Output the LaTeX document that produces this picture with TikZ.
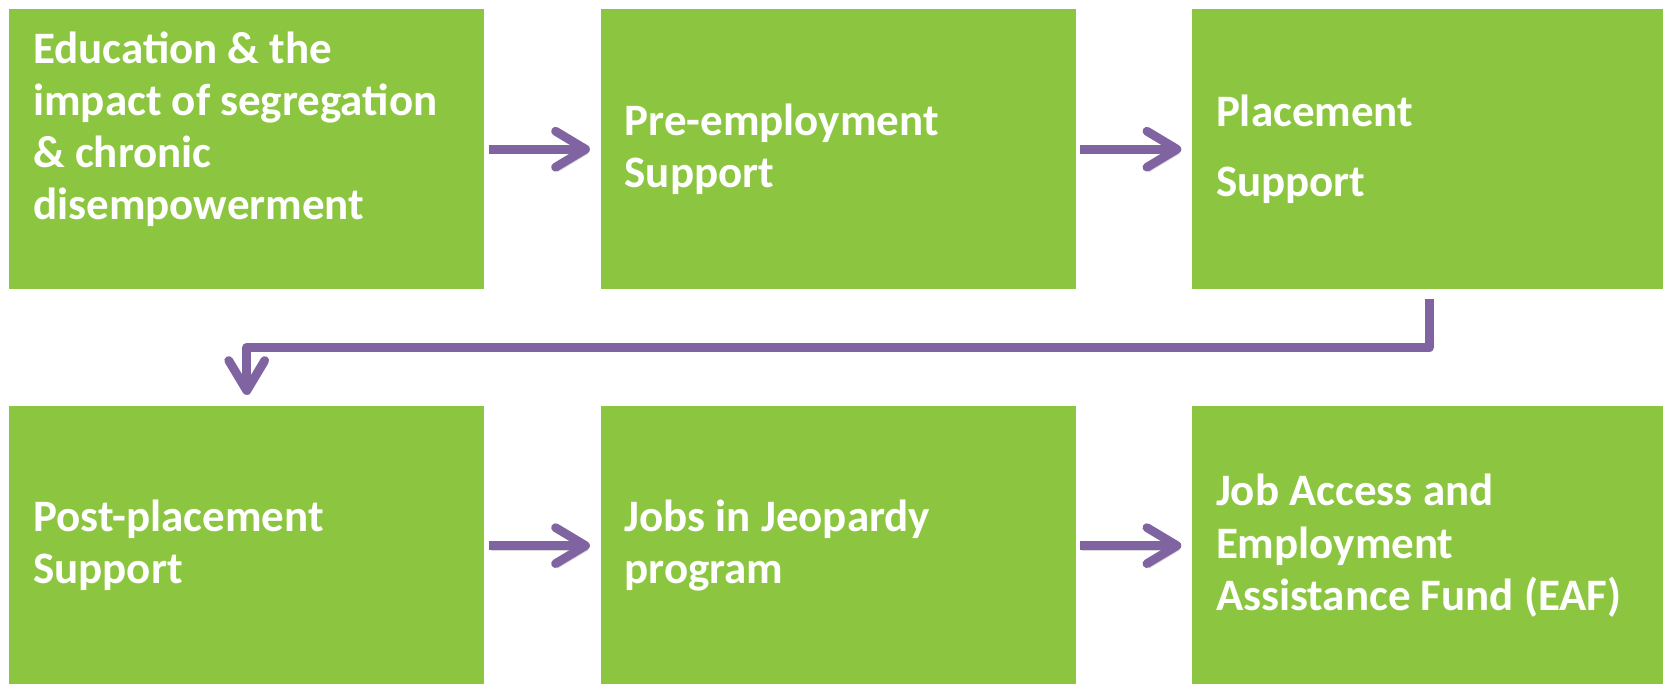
\documentclass[tikz,border=0pt]{standalone}
\usepackage{fontspec}
\setmainfont{Carlito}
\usetikzlibrary{positioning,arrows.meta}

\definecolor{boxgreen}{HTML}{8CC641}
\definecolor{flowpurple}{HTML}{8064A2}

\begin{document}
\begin{tikzpicture}[
    box/.style={fill=boxgreen, minimum width=4.75cm, minimum height=2.8cm, inner sep=0},
    txt/.style={text=white, align=left, inner sep=0, font=\fontsize{12.8}{14.8}\selectfont\bfseries},
    flow/.style={flowpurple, line width=2.5pt, line join=round,
      -{Straight Barb[length=0.3cm, width=0.36cm, round]},
      shorten <=0.04cm, shorten >=0.1cm,
      preaction={draw=black, draw opacity=0.15, transform canvas={xshift=0.6pt, yshift=-1.2pt}}},
  ]
  \useasboundingbox (0,0) rectangle (16.63,-6.83);

  % the six steps, two rows of three
  \node[box, anchor=north west] (edu) at (0.085,-0.085) {};
  \node[box, right=1.15cm of edu] (pre) {};
  \node[box, right=1.15cm of pre] (place) {};
  \node[box, below=1.15cm of edu] (post) {};
  \node[box, right=1.15cm of post] (jobs) {};
  \node[box, right=1.15cm of jobs] (eaf) {};

  \node[txt, right=0.24cm of edu.west, yshift=0.2cm] (edu-t) {Education \& the\\impact of segregation\\\& chronic\\disempowerment};
  \node[txt, right=0.24cm of pre.west] (pre-t) {Pre-employment\\Support};
  \node[txt, right=0.24cm of place.west] (place-t) {Placement\\[5pt]Support};
  \node[txt, right=0.24cm of post.west] (post-t) {Post-placement\\Support};
  \node[txt, right=0.24cm of jobs.west] (jobs-t) {Jobs in Jeopardy\\program};
  \node[txt, right=0.24cm of eaf.west] (eaf-t) {Job Access and\\Employment\\Assistance Fund (EAF)};

  % arrows
  \draw[flow] (edu) -- (pre);
  \draw[flow] (pre) -- (place);
  \draw[flow, shorten <=0.09cm] (place.south) -- ++(0,-0.575) -| (post.north);
  \draw[flow] (post) -- (jobs);
  \draw[flow] (jobs) -- (eaf);
\end{tikzpicture}
\end{document}
